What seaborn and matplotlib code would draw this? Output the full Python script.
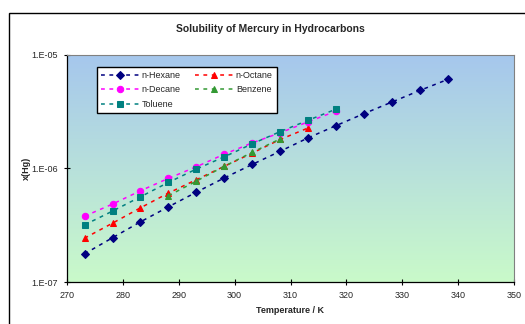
# Solubility of mercury in hydrocarbons - log plot
import numpy as np
import pandas as pd
import matplotlib
matplotlib.use("Agg")
import matplotlib.pyplot as plt
from matplotlib.patches import Rectangle
import seaborn as sns

# ==========================================
# Data
# ==========================================

temp_hexane = [273.15, 278.15, 283.15, 288.15, 293.15, 298.15, 303.15,
               308.15, 313.15, 318.15, 323.15, 328.15, 333.15, 338.15]
x_hexane = [1.77e-7, 2.45e-7, 3.38e-7, 4.58e-7, 6.16e-7, 8.22e-7, 1.08e-6,
            1.41e-6, 1.85e-6, 2.37e-6, 3.02e-6, 3.82e-6, 4.83e-6, 6.04e-6]

temp_octane = [273.15, 278.15, 283.15, 288.15, 293.15, 298.15, 303.15,
               308.15, 313.15]
x_octane = [2.43e-7, 3.29e-7, 4.49e-7, 6.05e-7, 7.93e-7, 1.04e-6, 1.36e-6,
            1.79e-6, 2.26e-6]

temp_decane = [273.15, 278.15, 283.15, 288.15, 293.15, 298.15, 303.15,
               308.15, 313.15, 318.15]
x_decane = [3.79e-7, 4.84e-7, 6.34e-7, 8.15e-7, 1.03e-6, 1.33e-6, 1.67e-6,
            2.05e-6, 2.56e-6, 3.18e-6]

temp_benzene = [288.15, 293.15, 298.15, 303.15, 308.15]
x_benzene = [5.73e-7, 7.71e-7, 1.04e-6, 1.38e-6, 1.81e-6]

temp_toluene = [273.15, 278.15, 283.15, 288.15, 293.15, 298.15, 303.15,
                308.15, 313.15, 318.15]
x_toluene = [3.18e-7, 4.20e-7, 5.61e-7, 7.51e-7, 9.84e-7, 1.26e-6, 1.64e-6,
             2.10e-6, 2.64e-6, 3.31e-6]

series_names = ["n-Hexane", "n-Octane", "n-Decane", "Benzene", "Toluene"]
x_ticks = [270, 280, 290, 300, 310, 320, 330, 340, 350]
y_ticks = [1e-7, 1e-6, 1e-5]
y_tick_labels = ["1.E-07", "1.E-06", "1.E-05"]

df = pd.concat([
    pd.DataFrame({"T": temp_hexane, "x": x_hexane, "solvent": "n-Hexane"}),
    pd.DataFrame({"T": temp_octane, "x": x_octane, "solvent": "n-Octane"}),
    pd.DataFrame({"T": temp_decane, "x": x_decane, "solvent": "n-Decane"}),
    pd.DataFrame({"T": temp_benzene, "x": x_benzene, "solvent": "Benzene"}),
    pd.DataFrame({"T": temp_toluene, "x": x_toluene, "solvent": "Toluene"}),
])

styles = {
    "n-Hexane": ("#000080", "D", 3.6),
    "n-Octane": ("#ff0000", "^", 4.8),
    "n-Decane": ("#ff00ff", "o", 4.6),
    "Benzene": ("#339933", "^", 4.8),
    "Toluene": ("#008080", "s", 4.4),
}

# ==========================================
# Figure
# ==========================================

sns.set_style("white")
plt.rcParams["font.family"] = ["Liberation Sans", "DejaVu Sans"]

fig = plt.figure(figsize=(5.25, 3.24), dpi=100)
ax = fig.add_axes([67 / 525, 1 - 282 / 324, 447 / 525, 227.5 / 324])

# outer chart border (cut off on the right / bottom like the reference)
fig.patches.append(Rectangle((9 / 525, -0.1), 1.2, 1 - 13 / 324 + 0.1,
                             transform=fig.transFigure, fill=False,
                             edgecolor="black", linewidth=1.0))

# gradient plot area
top = np.array([0.65, 0.78, 0.93])
bottom = np.array([0.79, 0.98, 0.79])
t = np.linspace(0, 1, 256)[:, None]
grad = (top * (1 - t) + bottom * t)[:, None, :]
ax.imshow(grad, extent=[0, 1, 0, 1], transform=ax.transAxes,
          aspect="auto", zorder=0, interpolation="bilinear")

for name in series_names:
    color, marker, ms = styles[name]
    sub = df[df["solvent"] == name]
    sns.lineplot(data=sub, x="T", y="x", ax=ax, color=color, marker=marker,
                 markersize=ms, markeredgecolor=color, linestyle=(0, (2.5, 3)),
                 linewidth=1.1, label=name, zorder=3)

ax.set_yscale("log")
ax.set_xlim(270, 350)
ax.set_ylim(1e-7, 1e-5)
ax.set_xticks(x_ticks)
ax.set_xticklabels([str(v) for v in x_ticks], fontsize=6.5)
ax.set_yticks(y_ticks)
ax.set_yticklabels(y_tick_labels, fontsize=6.5)
ax.yaxis.set_minor_locator(matplotlib.ticker.NullLocator())
ax.tick_params(axis="both", direction="inout", length=5, width=0.8,
               color="black", pad=4, bottom=True, left=True)

for side in ["top", "right"]:
    ax.spines[side].set_color("#808080")
    ax.spines[side].set_linewidth(0.8)
for side in ["left", "bottom"]:
    ax.spines[side].set_color("black")
    ax.spines[side].set_linewidth(0.9)

ax.set_xlabel("Temperature / K", fontsize=6.5, fontweight="bold", labelpad=4)
ax.set_ylabel("x(Hg)", fontsize=6.5, fontweight="bold", labelpad=0.5)
fig.text(270 / 525, 1 - 29 / 324, "Solubility of Mercury in Hydrocarbons",
         ha="center", va="center", fontsize=7.5, fontweight="bold")

handles, labels = ax.get_legend_handles_labels()
order = [0, 2, 4, 1, 3]
leg = ax.legend([handles[i] for i in order], [labels[i] for i in order],
                ncol=2, loc="upper left", bbox_to_anchor=(0.056, 0.967),
                fontsize=6.5, frameon=True, fancybox=False,
                edgecolor="black", framealpha=1, borderpad=0.5,
                handlelength=4.2, columnspacing=1.6, labelspacing=0.6,
                handletextpad=0.3)
leg.get_frame().set_linewidth(1.0)

plt.savefig("out.png", dpi=100)
plt.close()
